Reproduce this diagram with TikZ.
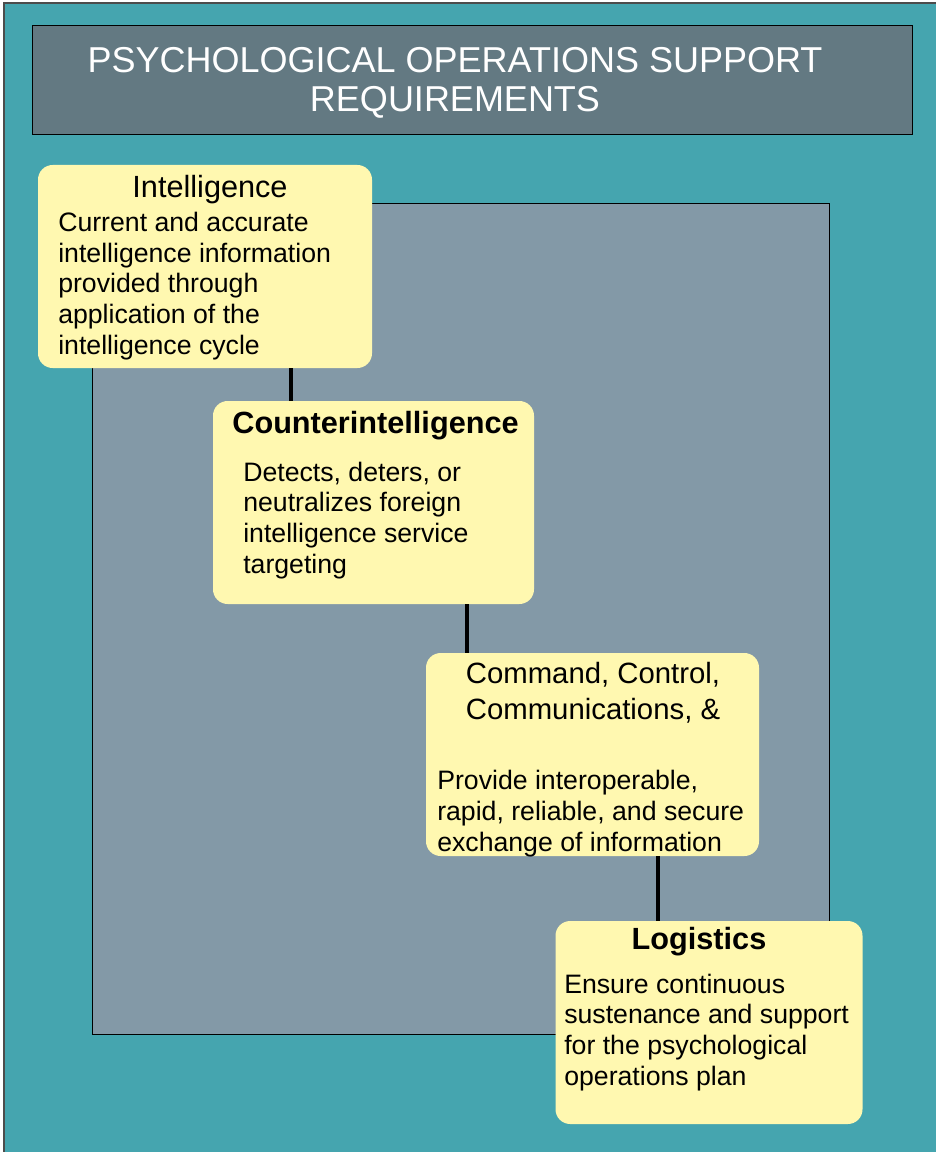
\documentclass[tikz,border=0pt]{standalone}
\usepackage{fontspec}
\setmainfont{Liberation Sans}
\usepackage{xcolor}
\usepackage{tikz}
\definecolor{tealbg}{RGB}{69,165,175}
\definecolor{slatebar}{RGB}{99,121,130}
\definecolor{panelgrey}{RGB}{131,153,167}
\definecolor{noteyellow}{RGB}{255,248,176}

\begin{document}
\begin{tikzpicture}[x=0.75pt, y=-0.75pt,
    card/.style={fill=noteyellow, rounded corners=11pt, inner sep=0pt, minimum height=152.25pt},
    head/.style={anchor=base, align=center, inner sep=0pt, font=\fontsize{23}{27}\selectfont},
    body/.style={anchor=base west, align=left, inner sep=0pt, font=\fontsize{20}{23}\selectfont},
    link/.style={line width=3pt}
]
\useasboundingbox (0,0) rectangle (935,1152);
\fill[white] (0,0) rectangle (935,1152);
\draw[fill=tealbg, draw=black!70, line width=1pt] (4,3) rectangle (950,1170);
\node[fill=slatebar, draw=black, line width=0.75pt, minimum width=660pt, minimum height=81.75pt] (banner) at (472,80.5) {};
% multi-line nodes sit on the baseline of their last line
\node[anchor=base, align=center, inner sep=0pt, text=white, font=\fontsize{27}{29.25}\selectfont] (bannertext) at (455,112) {PSYCHOLOGICAL OPERATIONS SUPPORT\\REQUIREMENTS};
\draw[fill=panelgrey, draw=black, line width=0.75pt] (92,203) rectangle (829,1034);

\node[card, minimum width=250.5pt] (intel) at (205,266.5) {};
\node[card, minimum width=240.75pt] (counter) at (373.5,502.5) {};
\node[card, minimum width=249.75pt] (comms) at (592.5,754.5) {};
\node[card, minimum width=230.25pt] (logi) at (709,1022.5) {};

\node[head] (intelhead) at (210,197) {Intelligence};
\node[body] (intelbody) at (58,354) {Current and accurate\\intelligence information\\provided through\\application of the\\intelligence cycle};
\node[head, font=\bfseries\fontsize{23}{27}\selectfont] (counterhead) at (375.5,433) {Counterintelligence};
\node[body] (counterbody) at (243,573) {Detects, deters, or\\neutralizes foreign\\intelligence service\\targeting};
\node[head, font=\fontsize{22}{27}\selectfont] (commshead) at (593,719) {Command, Control,\\Communications, \&};
\node[body] (commsbody) at (437,851) {Provide interoperable,\\rapid, reliable, and secure\\exchange of information};
\node[head, font=\bfseries\fontsize{23}{27}\selectfont] (logihead) at (699,949) {Logistics};
\node[body] (logibody) at (564,1085) {Ensure continuous\\sustenance and support\\for the psychological\\operations plan};

\draw[link] (intel.south -| 291,0) -- (counter.north -| 291,0);
\draw[link] (counter.south -| 467,0) -- (comms.north -| 467,0);
\draw[link] (comms.south -| 658,0) -- (logi.north -| 658,0);
\end{tikzpicture}
\end{document}
